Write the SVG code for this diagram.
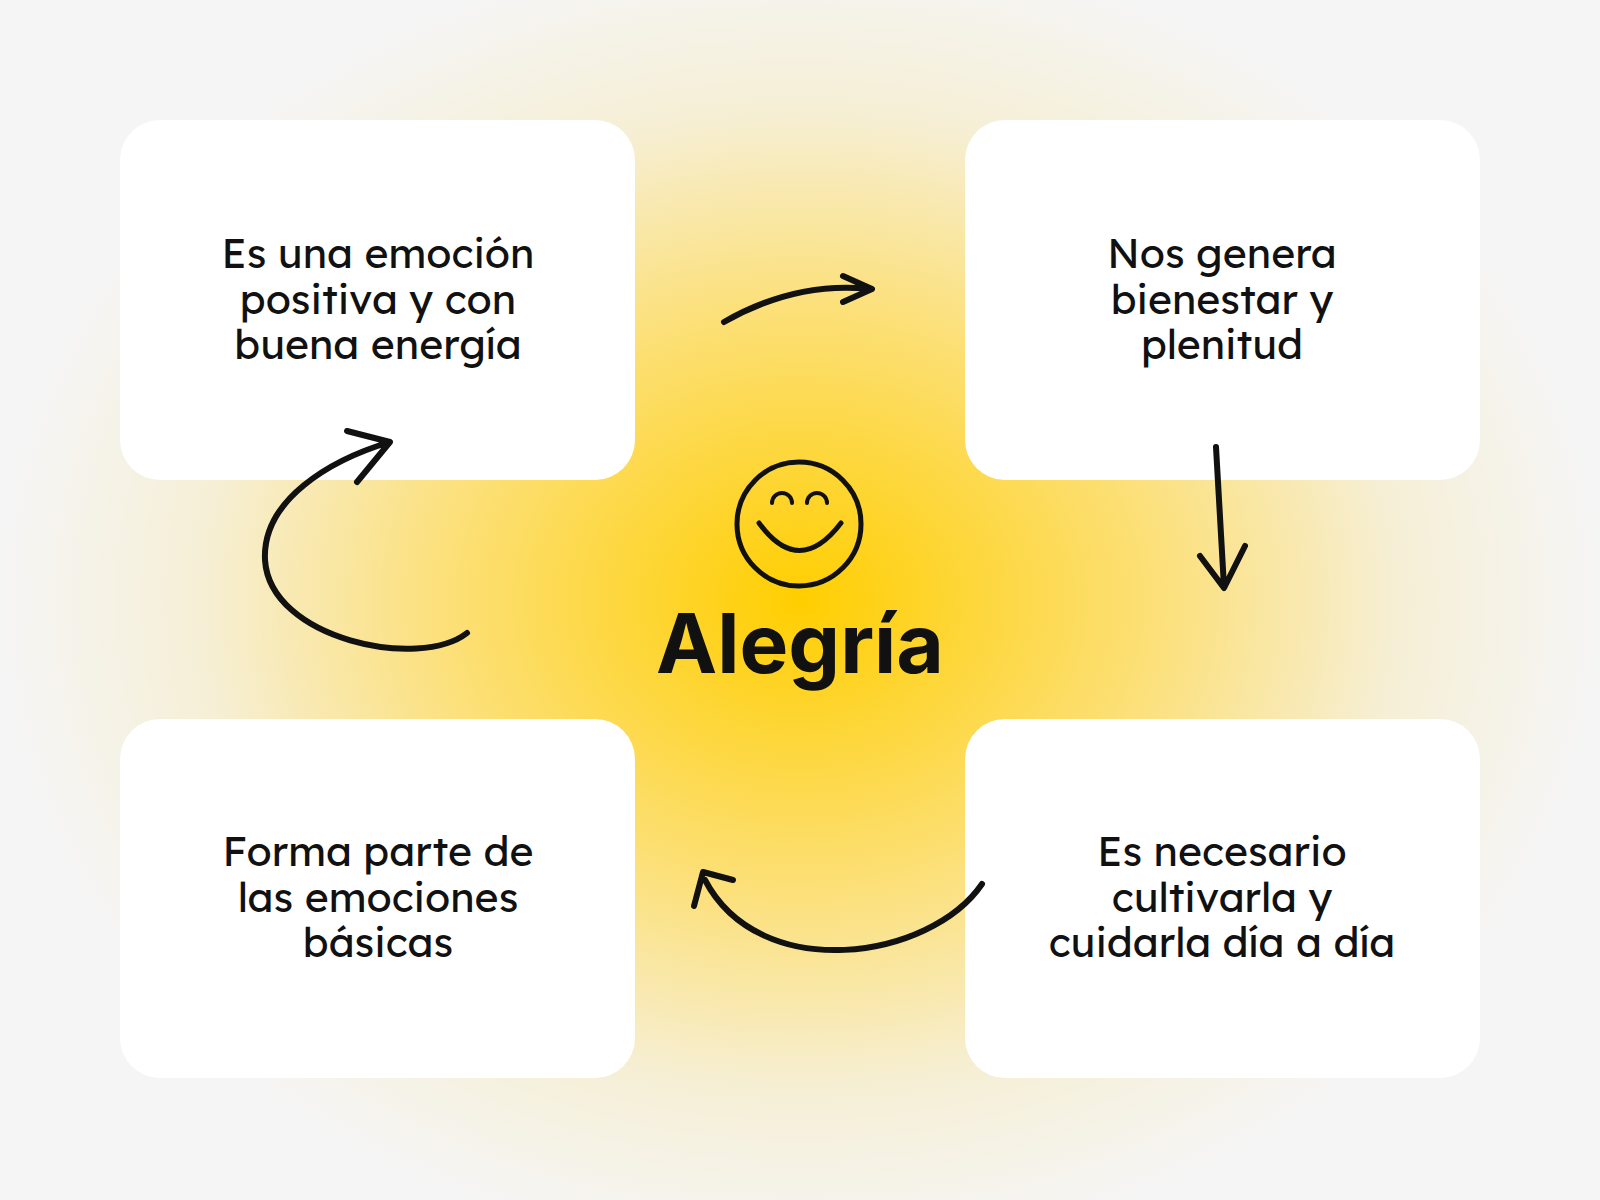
<svg xmlns="http://www.w3.org/2000/svg" width="1600" height="1200" viewBox="0 0 1600 1200">
<defs>
<radialGradient id="bg" cx="800" cy="600" r="800" gradientUnits="userSpaceOnUse" gradientTransform="translate(800 600) scale(1 0.82) translate(-800 -600)">
<stop offset="0" stop-color="#FFCE00"/>
<stop offset="0.45" stop-color="#FCE07A"/>
<stop offset="0.75" stop-color="#F6EFD6"/>
<stop offset="1" stop-color="#F5F5F5"/>
</radialGradient>
<style>
.box{fill:#fff}
.t{font-family:"Lexend","Inter","Liberation Sans",sans-serif;font-size:41px;fill:#111;text-anchor:middle}
.a{fill:none;stroke:#111;stroke-width:6;stroke-linecap:round;stroke-linejoin:round}
</style>
</defs>
<rect width="1600" height="1200" fill="url(#bg)"/>
<g id="n1"><rect class="box" x="120" y="120" width="515" height="360" rx="40"/>
<text class="t" x="378" y="268">Es una emoción</text><text class="t" x="378" y="314">positiva y con</text><text class="t" x="378" y="359">buena energía</text></g>
<g id="n2"><rect class="box" x="965" y="120" width="515" height="360" rx="40"/>
<text class="t" x="1222" y="268">Nos genera</text><text class="t" x="1222" y="314">bienestar y</text><text class="t" x="1222" y="359">plenitud</text></g>
<g id="n3"><rect class="box" x="965" y="719" width="515" height="359" rx="40"/>
<text class="t" x="1222" y="866">Es necesario</text><text class="t" x="1222" y="912">cultivarla y</text><text class="t" x="1222" y="957">cuidarla día a día</text></g>
<g id="n4"><rect class="box" x="120" y="719" width="515" height="359" rx="40"/>
<text class="t" x="378" y="866">Forma parte de</text><text class="t" x="378" y="912">las emociones</text><text class="t" x="378" y="957">básicas</text></g>
<g id="center">
<circle cx="799" cy="524" r="62" fill="none" stroke="#111" stroke-width="5"/>
<path d="M772,503 a10,10 0 0 1 20,0 M807,503 a10,10 0 0 1 20,0" fill="none" stroke="#111" stroke-width="4" stroke-linecap="round"/>
<path d="M759,523 Q799,578 841,523" fill="none" stroke="#111" stroke-width="5" stroke-linecap="round"/>
<text x="800" y="673" font-family="Inter,'Liberation Sans',sans-serif" font-weight="bold" font-size="82" fill="#111" text-anchor="middle">Alegría</text>
</g>
<g id="connectors">
<path class="a" d="M724,322 Q796,281 870,289 M843,276 L872,289 L843,302"/>
<path class="a" d="M1216,447 L1224,587 M1200,556 L1224,588 L1245,546"/>
<path class="a" d="M982,884 C930,960 760,985 705,880 M694,906 L703,872 L733,880"/>
<path class="a" d="M467,633 C420,670 270,640 265,560 C262,500 330,460 390,442 M347,431 L390,442 L357,482"/>
</g>
</svg>
